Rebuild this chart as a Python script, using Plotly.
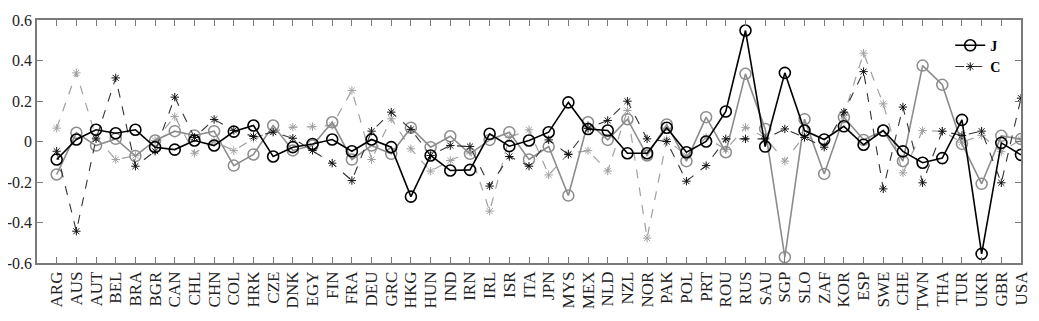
"""Line chart of J and C coefficients by country"""

import plotly.graph_objects as go

countries = [
    "ARG", "AUS", "AUT", "BEL", "BRA", "BGR", "CAN", "CHL", "CHN", "COL",
    "HRK", "CZE", "DNK", "EGY", "FIN", "FRA", "DEU", "GRC", "HKG", "HUN",
    "IND", "IRN", "IRL", "ISR", "ITA", "JPN", "MYS", "MEX", "NLD", "NZL",
    "NOR", "PAK", "POL", "PRT", "ROU", "RUS", "SAU", "SGP", "SLO", "ZAF",
    "KOR", "ESP", "SWE", "CHE", "TWN", "THA", "TUR", "UKR", "GBR", "USA",
]

# black solid, circles (J)
j_black = [
    -0.089, 0.010, 0.058, 0.041, 0.058, -0.028, -0.040, 0.005, -0.020, 0.049,
    0.079, -0.074, -0.028, -0.012, 0.010, -0.048, 0.010, -0.028, -0.272, -0.069,
    -0.143, -0.140, 0.038, -0.023, 0.005, 0.046, 0.193, 0.062, 0.054, -0.058,
    -0.058, 0.068, -0.053, 0.000, 0.148, 0.548, -0.025, 0.339, 0.054, 0.010,
    0.075, -0.016, 0.054, -0.049, -0.105, -0.082, 0.107, -0.555, -0.007, -0.066,
]

# grey solid, circles
j_grey = [
    -0.163, 0.043, -0.020, 0.013, -0.072, 0.005, 0.051, 0.030, 0.051, -0.119,
    -0.064, 0.079, -0.044, -0.020, 0.095, -0.089, -0.020, -0.061, 0.068, -0.028,
    0.026, -0.061, 0.008, 0.046, -0.089, -0.025, -0.267, 0.095, 0.008, 0.110,
    -0.069, 0.084, -0.097, 0.120, -0.053, 0.334, 0.062, -0.571, 0.110, -0.160,
    0.120, 0.008, 0.054, -0.097, 0.375, 0.280, -0.012, -0.209, 0.028, 0.012,
]

# black dashed, asterisks (C)
c_black = [
    -0.048, -0.443, 0.013, 0.314, -0.122, -0.048, 0.219, 0.020, 0.109, 0.055,
    0.025, 0.046, 0.016, -0.044, -0.107, -0.193, 0.051, 0.145, 0.060, -0.069,
    -0.020, -0.025, -0.220, -0.074, -0.122, 0.008, -0.064, 0.065, 0.104, 0.199,
    0.013, 0.000, -0.196, -0.119, 0.013, 0.013, 0.013, 0.062, 0.020, -0.028,
    0.145, 0.345, -0.234, 0.170, -0.204, 0.051, 0.030, 0.051, -0.204, 0.214,
]

# grey dashed, asterisks
c_grey = [
    0.066, 0.339, 0.020, -0.089, -0.070, 0.005, 0.123, -0.058, 0.000, -0.045,
    0.015, 0.050, 0.071, 0.073, 0.080, 0.252, -0.089, 0.112, -0.036, -0.146,
    -0.094, -0.050, -0.344, 0.020, 0.058, -0.165, -0.060, -0.045, -0.146, 0.153,
    -0.477, 0.010, -0.070, 0.020, -0.040, 0.070, 0.020, -0.097, 0.030, -0.020,
    0.130, 0.436, 0.186, -0.155, 0.054, 0.050, -0.003, 0.030, -0.050, 0.010,
]

x = list(range(1, len(countries) + 1))
FONT = "Liberation Serif, Times New Roman, serif"
AXIS_COL = "#7a7a7a"

fig = go.Figure()

# grey series first so the black ones sit on top
fig.add_trace(go.Scatter(
    x=x, y=c_grey, mode="lines+markers", showlegend=False,
    line=dict(color="#a0a0a0", width=1.2, dash="dash"),
    marker=dict(symbol="asterisk-open", size=7, color="#a0a0a0",
                line=dict(color="#a0a0a0", width=1)),
))
fig.add_trace(go.Scatter(
    x=x, y=j_grey, mode="lines+markers", showlegend=False,
    line=dict(color="#8c8c8c", width=1.6),
    marker=dict(symbol="circle-open", size=11, color="#8c8c8c",
                line=dict(color="#8c8c8c", width=1.5)),
))
fig.add_trace(go.Scatter(
    x=x, y=c_black, mode="lines+markers", name="<b>C</b>",
    line=dict(color="#333333", width=1.1, dash="dash"),
    marker=dict(symbol="asterisk-open", size=7, color="#111111",
                line=dict(color="#111111", width=1)),
))
fig.add_trace(go.Scatter(
    x=x, y=j_black, mode="lines+markers", name="<b>J</b>",
    line=dict(color="#000000", width=1.6),
    marker=dict(symbol="circle-open", size=11, color="#000000",
                line=dict(color="#000000", width=1.6)),
))

# page body adds an 8px offset, so the figure is sized to fit inside the window
fig.update_layout(
    width=1031, height=313,
    margin=dict(l=29, r=18, t=12, b=58, autoexpand=False),
    paper_bgcolor="white", plot_bgcolor="white",
    font=dict(family=FONT, size=17, color="#222222"),
    legend=dict(
        x=0.985, y=0.96, xanchor="right", yanchor="top",
        bgcolor="rgba(0,0,0,0)", traceorder="reversed",
        font=dict(family=FONT, size=14, color="#000000"),
        itemwidth=30, tracegroupgap=0,
    ),
)
fig.update_xaxes(
    range=[0, 50], tickmode="array", tickvals=x, ticktext=countries,
    tickangle=-90, ticks="inside", ticklen=6, tickcolor=AXIS_COL,
    showline=True, linecolor=AXIS_COL, linewidth=1.5, mirror="ticks",
    showgrid=False, zeroline=False, automargin=False,
    tickfont=dict(family=FONT, size=17),
)
fig.update_yaxes(
    range=[-0.6, 0.6], tickmode="array",
    tickvals=[-0.6, -0.4, -0.2, 0, 0.2, 0.4, 0.6],
    ticktext=["-0.6", "-0.4", "-0.2", "0", "0.2", "0.4", "0.6"],
    ticks="inside", ticklen=6, tickcolor=AXIS_COL,
    showline=True, linecolor=AXIS_COL, linewidth=1.5, mirror="ticks",
    showgrid=False, zeroline=False, automargin=False,
    tickfont=dict(family=FONT, size=16),
)

fig.write_html("out.html")
